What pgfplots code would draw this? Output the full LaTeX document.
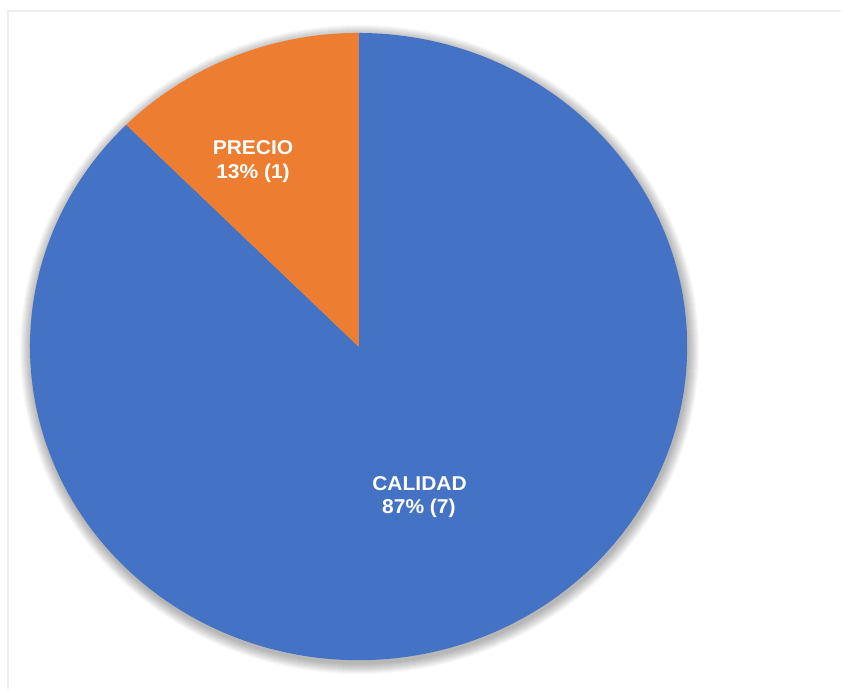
\documentclass[border=0pt]{standalone}
\usepackage{pgfplots}
\usepackage{pgfplotstable}
\pgfplotsset{compat=1.18}
\usepackage{fontspec}
\setmainfont{Liberation Sans}
\newfontfamily\lbl[FakeStretch=1.05,UprightFont=* Bold]{Liberation Sans}
\definecolor{cblue}{HTML}{4472C4}
\definecolor{corange}{HTML}{ED7D31}
\definecolor{cframe}{HTML}{EEEEEE}
\pgfplotstableread{
cat value
CALIDAD 7
PRECIO 1
}\piedata
\begin{document}
\begin{tikzpicture}
\pgfplotstablegetelem{0}{value}\of\piedata \let\va\pgfplotsretval
\pgfplotstablegetelem{1}{value}\of\piedata \let\vb\pgfplotsretval
\pgfmathsetmacro\total{\va+\vb}
\pgfmathsetmacro\angA{360*\va/\total}
\pgfmathsetmacro\angB{360*\vb/\total}
\pgfmathsetmacro\startA{90-\angA}
\pgfmathsetmacro\endB{90+\angB}
\def\cx{359}\def\cy{343}\def\rx{329}\def\ry{314}
\begin{axis}[
  width=842pt, height=690pt, scale only axis,
  xmin=0, xmax=842, ymin=0, ymax=690,
  hide axis, clip=false,
]
\path[fill=white] (axis cs:0,0) rectangle (axis cs:842,690);
\draw[cframe, line width=2pt] (axis cs:8,0) -- (axis cs:8,679) -- (axis cs:842,679);
% shadow
\foreach \k in {1,...,11}{
  \edef\temp{\noexpand\addplot[fill=black, fill opacity=0.026, draw=none, domain=0:360, samples=180, variable=\noexpand\t]
    ({\cx+1+(\rx+\k)*cos(\noexpand\t)},{\cy-3+(\ry+\k)*sin(\noexpand\t)}) -- cycle;}
  \temp
}
\addplot[fill=cblue, draw=none, domain=\startA:90, samples=240, variable=\t]
  ({\cx+\rx*cos(\t)},{\cy+\ry*sin(\t)}) -- (axis cs:\cx,\cy) -- cycle;
\addplot[fill=corange, draw=none, domain=90:\endB, samples=60, variable=\t]
  ({\cx+\rx*cos(\t)},{\cy+\ry*sin(\t)}) -- (axis cs:\cx,\cy) -- cycle;
\tikzset{lab/.style={text=white, anchor=base, inner sep=0pt, font=\fontsize{20}{24}\selectfont\lbl}}
\node[lab] at (axis cs:253.3,535) {PRECIO};
\node[lab] at (axis cs:253.3,511) {13\% (1)};
\node[lab] at (axis cs:420,199.3) {CALIDAD};
\node[lab] at (axis cs:419.4,176) {87\% (7)};
\end{axis}
\end{tikzpicture}
\end{document}
